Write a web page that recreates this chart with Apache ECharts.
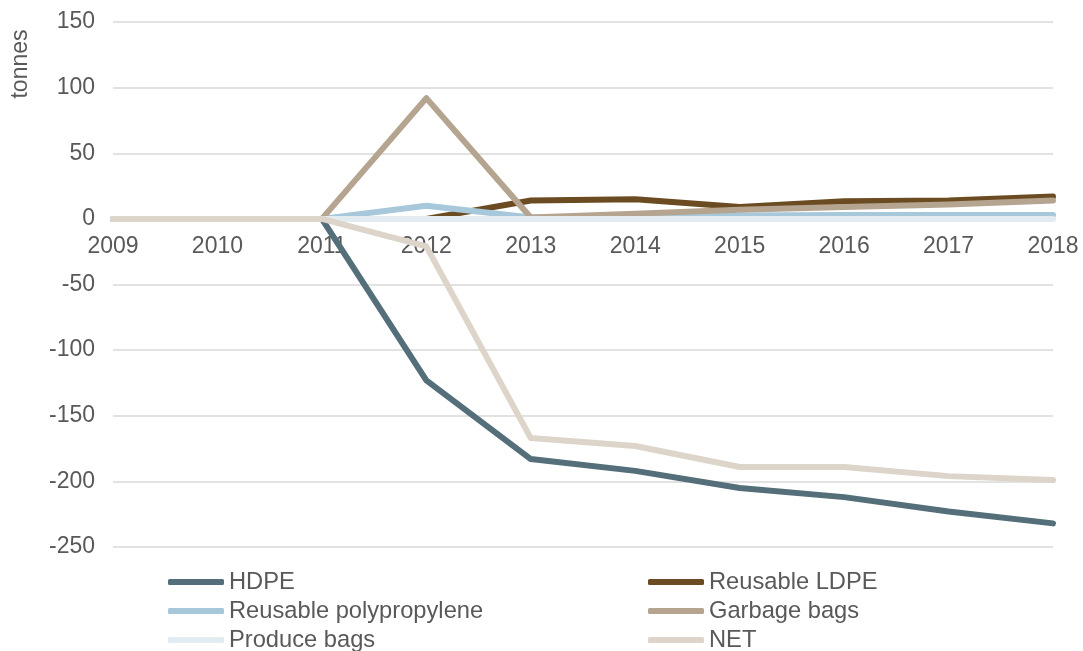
<!DOCTYPE html>
<html>
<head>
<meta charset="utf-8">
<script src="https://cdn.jsdelivr.net/npm/echarts@6/dist/echarts.min.js"></script>
<style>
html,body{margin:0;padding:0;background:#fff;}
#chart{width:1083px;height:651px;}
</style>
</head>
<body>
<div id="chart"></div>
<script>
var years = ['2009','2010','2011','2012','2013','2014','2015','2016','2017','2018'];
var hdpe        = [0, 0, 0, -123, -183, -192, -205, -212, -223, -232];
var reusableLdpe = [0, 0, 0, 0, 14, 15, 9, 13.5, 14, 17];
var reusablePp  = [0, 0, 0, 10, 1, 2, 2.5, 3, 3, 3];
var garbageBags = [0, 0, 0, 92, 1, 4, 7, 9, 11, 14];
var produceBags = [0, 0, 0, 0, 0, 0, 0, 0, 0, 0];
var net         = [0, 0, 0, -21, -167, -173, -189, -189, -196, -199];
var yTicks = {min: -250, max: 150, interval: 50};

var names = ['HDPE','Reusable LDPE','Reusable polypropylene','Garbage bags','Produce bags','NET'];
var colors = ['#546e7a','#6b4c22','#a6c8da','#b5a48f','#e2ebef','#ddd4ca'];
var datas = [hdpe, reusableLdpe, reusablePp, garbageBags, produceBags, net];

var textColor = '#595959';
var font = 'Liberation Sans, Arial, sans-serif';

var series = names.map(function(n, i){
  return {
    name: n, type: 'line', data: datas[i], symbol: 'none',
    lineStyle: {color: colors[i], width: 6, cap: 'round', join: 'round'},
    itemStyle: {color: colors[i]},
    z: 2 + i
  };
});

// legend slots: [name, left, top]
var legendSlots = [
  ['HDPE', 168, 570], ['Reusable LDPE', 648, 570],
  ['Reusable polypropylene', 168, 599], ['Garbage bags', 648, 599],
  ['Produce bags', 168, 628], ['NET', 648, 628]
];
var legends = legendSlots.map(function(s){
  return {
    left: s[1], top: s[2], data: [s[0]],
    itemWidth: 56, itemHeight: 6, icon: 'roundRect',
    padding: 0,
    textStyle: {color: textColor, fontSize: 23.7, fontFamily: font, lineHeight: 24, padding: 0}
  };
});

var gridTop = 22, gridBottom = 104, chartH = 651;
var plotH = chartH - gridTop - gridBottom;
// place the category axis at the zero line of the value axis
var zeroOffset = -plotH * (0 - yTicks.min) / (yTicks.max - yTicks.min);

var chart = echarts.init(document.getElementById('chart'), null, {renderer: 'canvas'});
chart.setOption({
  animation: false,
  backgroundColor: '#ffffff',
  grid: {left: 113, right: 30, top: gridTop, bottom: gridBottom, containLabel: false},
  legend: legends,
  xAxis: {
    type: 'category', data: years, boundaryGap: false,
    position: 'bottom', offset: zeroOffset,
    axisLine: {show: false, onZero: false},
    axisTick: {show: false},
    axisLabel: {color: textColor, fontSize: 23, fontFamily: font, margin: 16},
    splitLine: {show: false}
  },
  yAxis: {
    type: 'value', min: yTicks.min, max: yTicks.max, interval: yTicks.interval,
    axisLine: {show: false}, axisTick: {show: false},
    axisLabel: {color: textColor, fontSize: 23, fontFamily: font, margin: 18},
    splitLine: {lineStyle: {color: '#d9d9d9', width: 1.5}}
  },
  graphic: [{
    type: 'text', x: 21, y: 64, rotation: Math.PI / 2,
    style: {text: 'tonnes', fill: textColor, font: '23px ' + font, textAlign: 'center', textVerticalAlign: 'middle'}
  }],
  series: series
});
</script>
</body>
</html>
